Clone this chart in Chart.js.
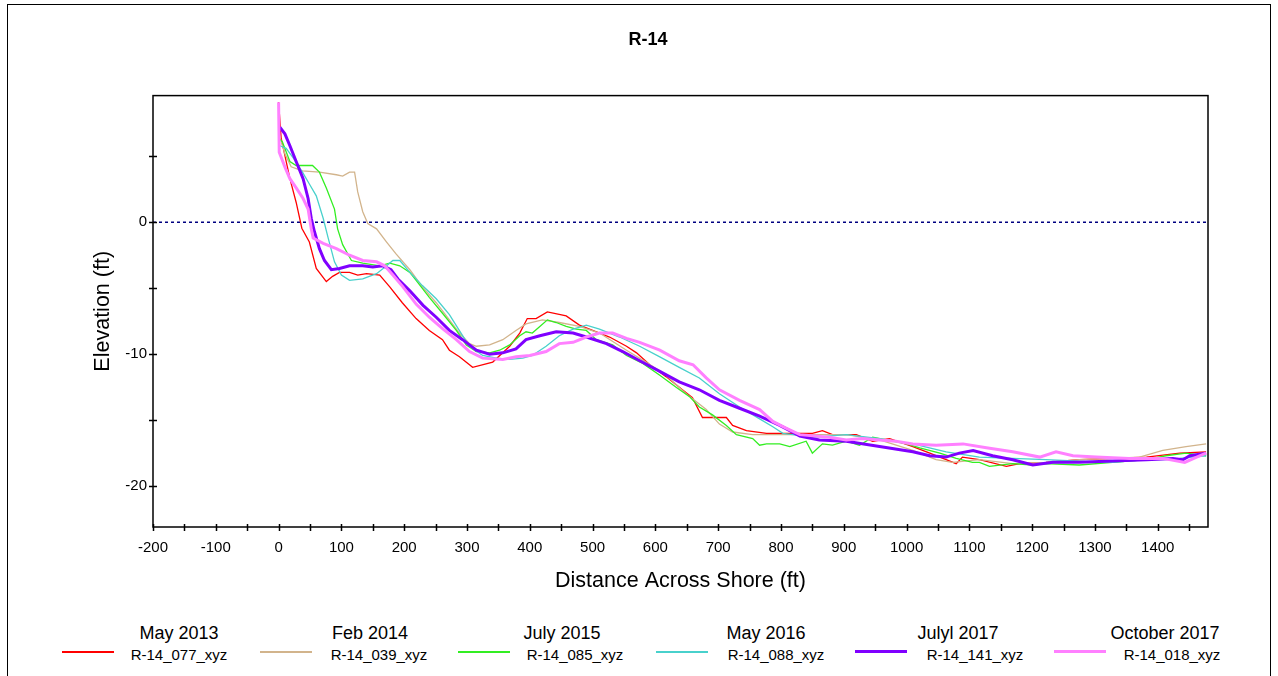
<!DOCTYPE html>
<html>
<head>
<meta charset="utf-8">
<title>R-14</title>
<script src="https://cdn.jsdelivr.net/npm/chart.js@4"></script>
<style>
  html, body { margin: 0; padding: 0; background: #fff; }
  body { width: 1278px; height: 676px; position: relative; overflow: hidden; font-family: "Liberation Sans", Arial, sans-serif; }
  #frame { position: absolute; left: 7px; top: 4px; width: 1264px; height: 700px; border: 1px solid #000; box-sizing: border-box; }
  #wrap { position: absolute; left: 0; top: 0; width: 1278px; height: 600px; }
  .swatch { position: absolute; width: 52px; }
  .ttl, .lbl { position: absolute; width: 160px; text-align: center; color: #000; white-space: nowrap; }
  .ttl { top: 623px; font-size: 18px; line-height: 20px; }
  .lbl { top: 646px; font-size: 15px; line-height: 17px; }
</style>
</head>
<body>
<div id="frame"></div>
<div id="wrap"><canvas id="profileChart" width="1278" height="600"></canvas></div>
<div id="legend"></div>
<script>
// survey names and file labels (legend)
const surveyTitles = ["May 2013", "Feb 2014", "July 2015", "May 2016", "Julyl 2017", "October 2017"];
const surveyFiles = ["R-14_077_xyz", "R-14_039_xyz", "R-14_085_xyz", "R-14_088_xyz", "R-14_141_xyz", "R-14_018_xyz"];

// distance (ft) / elevation (ft)
const may2013X = [0, 4, 18, 28, 37, 49, 60, 76, 86, 97, 113, 126, 140, 161, 177, 197, 219, 240, 261, 272, 288, 309, 341, 368, 384, 396, 410, 428, 458, 479, 500, 527, 554, 570, 591, 617, 643, 659, 675, 691, 713, 723, 745, 777, 814, 850, 866, 882, 920, 946, 973, 1010, 1037, 1063, 1079, 1089, 1116, 1159, 1180, 1222, 1275, 1328, 1382, 1435, 1477];
const may2013Y = [9.1, 6.4, 3.3, 1.5, -0.45, -1.5, -3.5, -4.5, -4.1, -3.8, -3.8, -4.0, -3.9, -4.0, -4.9, -6.1, -7.3, -8.2, -8.9, -9.7, -10.2, -11.0, -10.6, -9.4, -8.4, -7.3, -7.3, -6.8, -7.1, -7.8, -8.2, -8.7, -9.4, -9.9, -10.8, -11.7, -12.7, -13.3, -14.8, -14.8, -14.8, -15.4, -15.8, -16.0, -16.0, -16.0, -15.8, -16.1, -16.1, -16.6, -16.4, -17.0, -17.5, -18.0, -18.3, -17.8, -18.0, -18.5, -18.3, -18.2, -18.0, -17.9, -17.8, -17.5, -17.4];

const feb2014X = [0, 10, 20, 38, 65, 92, 102, 113, 121, 126, 134, 142, 156, 172, 187, 209, 229, 251, 272, 288, 304, 315, 336, 357, 378, 394, 420, 447, 479, 511, 554, 585, 617, 649, 681, 702, 723, 755, 803, 850, 904, 957, 1010, 1047, 1073, 1116, 1169, 1222, 1275, 1328, 1371, 1408, 1445, 1477];
const feb2014Y = [6.8, 5.2, 4.2, 3.9, 3.8, 3.6, 3.5, 3.8, 3.8, 2.3, 0.8, -0.1, -0.5, -1.5, -2.4, -3.6, -4.9, -6.1, -7.4, -8.4, -9.2, -9.4, -9.3, -8.9, -8.2, -7.7, -7.4, -7.6, -7.9, -8.4, -9.7, -10.6, -11.6, -13.0, -14.2, -15.3, -15.9, -16.1, -16.1, -16.1, -16.1, -16.5, -17.3, -18.0, -18.2, -18.0, -18.3, -18.2, -18.0, -17.9, -17.8, -17.3, -17.0, -16.8];

const jul2015X = [2, 6, 18, 28, 54, 65, 76, 89, 94, 102, 116, 134, 161, 177, 193, 209, 219, 240, 261, 283, 299, 315, 336, 352, 368, 384, 394, 404, 416, 428, 442, 458, 474, 490, 506, 532, 554, 580, 607, 633, 654, 670, 691, 713, 729, 755, 766, 777, 798, 814, 840, 850, 866, 882, 904, 925, 946, 968, 1000, 1021, 1053, 1079, 1105, 1116, 1132, 1169, 1201, 1222, 1275, 1328, 1382, 1413, 1445, 1477];
const jul2015Y = [6.3, 6.1, 4.6, 4.3, 4.3, 3.8, 2.6, 1.0, -0.5, -1.7, -2.9, -3.1, -3.3, -3.1, -3.3, -3.8, -4.4, -5.7, -6.9, -8.2, -9.3, -9.8, -9.9, -9.7, -9.3, -8.6, -8.3, -8.4, -7.9, -7.4, -7.6, -7.9, -8.1, -8.2, -8.9, -9.3, -10.1, -10.7, -11.6, -12.5, -13.2, -14.0, -14.6, -15.4, -16.1, -16.4, -16.9, -16.8, -16.8, -17.0, -16.6, -17.5, -16.8, -16.9, -16.6, -16.9, -16.3, -16.5, -16.8, -17.1, -17.5, -17.9, -18.2, -18.2, -18.5, -18.3, -18.4, -18.3, -18.4, -18.2, -18.0, -17.7, -17.5, -17.7];

const may2016X = [2, 12, 23, 38, 49, 60, 71, 79, 89, 100, 113, 134, 156, 172, 182, 193, 209, 229, 251, 272, 293, 304, 325, 347, 368, 389, 404, 426, 447, 469, 490, 511, 543, 575, 607, 638, 670, 702, 734, 766, 787, 803, 819, 850, 904, 957, 1010, 1063, 1116, 1169, 1222, 1275, 1328, 1382, 1435, 1477];
const may2016Y = [5.8, 5.6, 4.9, 3.8, 2.9, 2.0, 0.3, -1.2, -3.0, -4.0, -4.4, -4.3, -3.9, -3.3, -2.9, -2.9, -3.8, -4.8, -5.8, -7.0, -8.6, -9.4, -10.1, -10.3, -10.4, -10.3, -10.1, -9.4, -8.6, -8.1, -7.8, -8.1, -8.7, -9.4, -10.2, -11.0, -11.8, -13.0, -14.0, -14.9, -15.5, -16.0, -16.1, -16.3, -16.1, -16.4, -16.8, -17.4, -17.8, -17.9, -18.0, -18.1, -18.2, -18.0, -17.9, -17.7];

const jul2017X = [2, 10, 18, 28, 39, 47, 52, 57, 65, 73, 84, 97, 113, 134, 150, 166, 179, 190, 209, 230, 251, 272, 293, 315, 336, 357, 378, 394, 416, 442, 469, 490, 522, 548, 575, 607, 638, 670, 702, 734, 766, 798, 814, 830, 861, 904, 957, 1010, 1037, 1063, 1084, 1106, 1137, 1169, 1201, 1233, 1275, 1328, 1382, 1424, 1440, 1451, 1477];
const jul2017Y = [7.2, 6.7, 5.8, 4.6, 3.3, 1.8, 0.3, -0.7, -2.0, -2.9, -3.6, -3.5, -3.3, -3.3, -3.4, -3.3, -3.6, -4.3, -5.2, -6.3, -7.2, -8.2, -8.9, -9.7, -10.0, -9.9, -9.6, -8.9, -8.6, -8.3, -8.4, -8.7, -9.2, -9.8, -10.5, -11.3, -12.1, -12.7, -13.5, -14.1, -14.7, -15.4, -15.8, -16.2, -16.5, -16.6, -17.0, -17.4, -17.7, -17.8, -17.5, -17.3, -17.7, -18.0, -18.4, -18.2, -18.2, -18.1, -18.0, -17.9, -18.0, -17.7, -17.5];

const oct2017X = [0, 1, 10, 18, 28, 39, 47, 52, 55, 71, 92, 113, 134, 156, 169, 182, 198, 219, 240, 262, 283, 304, 325, 357, 378, 400, 426, 447, 469, 490, 511, 532, 554, 575, 607, 638, 660, 681, 702, 734, 766, 787, 808, 830, 877, 904, 930, 957, 983, 1010, 1047, 1090, 1127, 1169, 1212, 1238, 1265, 1302, 1355, 1408, 1443, 1462, 1477];
const oct2017Y = [9.1, 5.3, 4.2, 3.3, 2.6, 1.8, 1.0, -0.5, -1.2, -1.6, -2.0, -2.5, -2.9, -3.0, -3.3, -4.0, -4.9, -6.2, -7.2, -8.1, -8.9, -9.8, -10.3, -10.4, -10.2, -10.1, -9.8, -9.2, -9.1, -8.7, -8.4, -8.4, -8.8, -9.1, -9.7, -10.5, -10.8, -11.8, -12.7, -13.5, -14.2, -15.1, -15.6, -16.1, -16.3, -16.5, -16.4, -16.5, -16.6, -16.8, -16.9, -16.8, -17.1, -17.4, -17.8, -17.4, -17.7, -17.8, -17.9, -17.9, -18.2, -17.8, -17.5];

// zero datum line
const datumX = [-200, 1480];
const datumY = [0, 0];

// axis ticks
const xTickValues = [];
for (let v = -200; v <= 1450; v += 50) xTickValues.push(v);
const yTickValues = [-20, -15, -10, -5, 0, 5];

const seriesX = [may2013X, feb2014X, jul2015X, may2016X, jul2017X, oct2017X];
const seriesY = [may2013Y, feb2014Y, jul2015Y, may2016Y, jul2017Y, oct2017Y];
const colors = ["#ff0000", "#d2b48c", "#33ee22", "#48d1cc", "#8000ff", "#ff80ff"];
const widths = [1.3, 1.3, 1.3, 1.3, 3, 3];

// legend placement (px)
const swatchLeft = [62, 260, 458, 656, 855, 1054];
const titleCenter = [179, 370, 562, 766, 958, 1165];
const labelCenter = [179, 379, 575, 776, 975, 1172];

const toPoints = (xs, ys) => xs.map((x, i) => ({ x: x, y: ys[i] }));

const datasets = seriesX.map((xs, i) => ({
    label: surveyFiles[i],
    data: toPoints(xs, seriesY[i]),
    borderColor: colors[i],
    backgroundColor: colors[i],
    borderWidth: widths[i],
    pointRadius: 0,
    tension: 0,
    fill: false,
    order: 7 - i
}));
datasets.push({
    label: "datum",
    data: toPoints(datumX, datumY),
    borderColor: "#000080",
    borderWidth: 1.5,
    borderDash: [3, 3],
    pointRadius: 0,
    fill: false,
    order: 8
});

// plot frame + tick marks crossing the axes
const frameAndTicks = {
    id: "frameAndTicks",
    afterDraw(chart) {
        const { ctx, chartArea: a, scales } = chart;
        ctx.save();
        ctx.strokeStyle = "#000";
        ctx.lineWidth = 1.5;
        ctx.strokeRect(a.left, a.top, a.right - a.left, a.bottom - a.top);
        ctx.beginPath();
        scales.x.ticks.forEach(t => {
            const px = Math.round(scales.x.getPixelForValue(t.value)) + 0.5;
            ctx.moveTo(px, a.bottom - 3);
            ctx.lineTo(px, a.bottom + 4);
        });
        scales.y.ticks.forEach(t => {
            const py = Math.round(scales.y.getPixelForValue(t.value)) + 0.5;
            ctx.moveTo(a.left - 4, py);
            ctx.lineTo(a.left + 4, py);
        });
        ctx.stroke();
        ctx.restore();
    }
};

const fontFamily = '"Liberation Sans", Arial, sans-serif';

new Chart(document.getElementById("profileChart").getContext("2d"), {
    type: "line",
    data: { datasets: datasets },
    options: {
        responsive: false,
        animation: false,
        layout: { padding: { left: 88, right: 70, top: 0, bottom: 0 } },
        plugins: {
            legend: { display: false },
            tooltip: { enabled: false },
            title: {
                display: true,
                text: "R-14",
                color: "#000",
                font: { family: fontFamily, size: 18, weight: "bold" },
                padding: { top: 29, bottom: 45 }
            }
        },
        scales: {
            x: {
                type: "linear",
                min: -200,
                max: 1480,
                afterBuildTicks: scale => { scale.ticks = xTickValues.map(v => ({ value: v })); },
                afterFit: scale => { scale.height = 73; },
                grid: { display: false, drawTicks: false },
                border: { display: false },
                ticks: {
                    autoSkip: false,
                    maxRotation: 0,
                    padding: 12,
                    color: "#000",
                    font: { family: fontFamily, size: 15 },
                    callback: v => (v % 100 === 0 ? String(v) : "")
                },
                title: {
                    display: true,
                    text: "Distance Across Shore (ft)",
                    color: "#000",
                    font: { family: fontFamily, size: 21.5 },
                    padding: { top: 4, bottom: 6 }
                }
            },
            y: {
                type: "linear",
                min: -23.1,
                max: 9.6,
                afterBuildTicks: scale => { scale.ticks = yTickValues.map(v => ({ value: v })); },
                afterFit: scale => { scale.width = 65; },
                grid: { display: false, drawTicks: false },
                border: { display: false },
                ticks: {
                    padding: 6,
                    color: "#000",
                    font: { family: fontFamily, size: 15 },
                    callback: v => (v % 10 === 0 ? String(v) : "")
                },
                title: {
                    display: true,
                    text: "Elevation (ft)",
                    color: "#000",
                    font: { family: fontFamily, size: 21.5 },
                    padding: { top: 2, bottom: 4 }
                }
            }
        }
    },
    plugins: [frameAndTicks]
});

// two-line legend below the plot
const legend = document.getElementById("legend");
surveyTitles.forEach((t, i) => {
    const sw = document.createElement("div");
    sw.className = "swatch";
    sw.style.left = swatchLeft[i] + "px";
    sw.style.height = widths[i] > 2 ? "3px" : "2px";
    sw.style.top = (widths[i] > 2 ? 650 : 651) + "px";
    sw.style.background = colors[i];
    const ttl = document.createElement("div");
    ttl.className = "ttl";
    ttl.style.left = (titleCenter[i] - 80) + "px";
    ttl.textContent = t;
    const lbl = document.createElement("div");
    lbl.className = "lbl";
    lbl.style.left = (labelCenter[i] - 80) + "px";
    lbl.textContent = surveyFiles[i];
    legend.appendChild(sw);
    legend.appendChild(ttl);
    legend.appendChild(lbl);
});
</script>
</body>
</html>
